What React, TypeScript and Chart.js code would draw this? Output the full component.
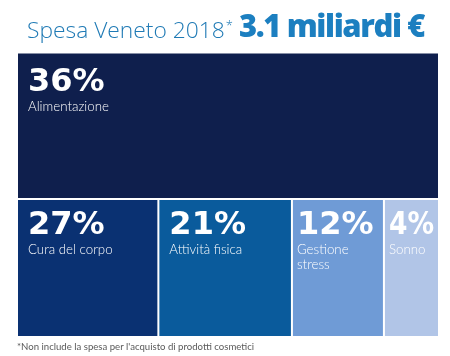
import React, { useEffect, useRef } from "react";
import { Chart, registerables } from "chart.js";

Chart.register(...registerables);

// ---- data ----
const rowLabels = ["Riga 1", "Riga 2"];
const categories: string[][] = [
  ["Alimentazione"],
  ["Cura del corpo"],
  ["Attività fisica"],
  ["Gestione", "stress"],
  ["Sonno"],
];
const shares = [36, 27, 21, 12, 4];
const tileRow = [0, 1, 1, 1, 1];
// share of the row width each tile takes in the infographic layout
const tileSpan = [100, 33.5, 31.65, 21.8, 13.05];
const tileColors = ["#0f1f4d", "#0a3172", "#0a5b9c", "#6f9bd6", "#b1c5e7"];
const titleLight = "Spesa Veneto 2018";
const titleStar = "*";
const titleBold = "3.1 miliardi €";
const footnote = "*Non include la spesa per l'acquisto di prodotti cosmetici";

const overlay = {
  id: "overlay",
  afterDatasetsDraw(chart: any) {
    const ctx: CanvasRenderingContext2D = chart.ctx;
    ctx.save();
    chart.data.datasets.forEach((_ds: any, i: number) => {
      const meta = chart.getDatasetMeta(i);
      const el = meta.data[tileRow[i]];
      if (!el) return;
      const p = el.getProps(["x", "base", "y", "height"], true);
      const left = Math.min(p.x, p.base) + 1;
      const right = Math.max(p.x, p.base) - 1;
      const top = p.y - p.height / 2 + 1;
      const inner = right - left;
      ctx.fillStyle = "#ffffff";
      ctx.textBaseline = "alphabetic";
      ctx.textAlign = "left";
      ctx.font = "bold 32px 'DejaVu Sans'";
      const pct = shares[i] + "%";
      const w = ctx.measureText(pct).width;
      const padX = w + 20 > inner ? 4 : 10;
      const padTop = tileRow[i] === 0 ? 15 : 10;
      const baseLine = top + padTop + 24;
      ctx.fillText(pct, left + padX, baseLine, inner - 2 * padX);
      ctx.font = "300 13.3px Lato";
      categories[i].forEach((line, k) => {
        ctx.fillText(line, left + padX, baseLine + 20 + k * 15);
      });
    });
    ctx.restore();
  },
  afterDraw(chart: any) {
    const ctx: CanvasRenderingContext2D = chart.ctx;
    ctx.save();
    ctx.textBaseline = "alphabetic";
    ctx.textAlign = "left";
    ctx.fillStyle = "#1f7ab5";
    ctx.font = "300 22.8px 'Open Sans'";
    ctx.fillText(titleLight, 27, 38);
    const w1 = ctx.measureText(titleLight).width;
    ctx.font = "300 13px 'Open Sans'";
    ctx.fillText(titleStar, 27 + w1 + 1, 30);
    ctx.fillStyle = "#1c7fc0";
    ctx.font = "800 31px 'Open Sans'";
    (ctx as any).letterSpacing = "-1.4px";
    ctx.fillText(titleBold, 239, 37);
    (ctx as any).letterSpacing = "0px";
    ctx.fillStyle = "#5a5a5a";
    ctx.font = "9.6px Lato";
    ctx.fillText(footnote, 17, 350);
    ctx.restore();
  },
};

export default function App() {
  const ref = useRef<HTMLCanvasElement | null>(null);
  useEffect(() => {
    if (!ref.current) return;
    const datasets = shares.map((_v, i) => ({
      label: categories[i].join(" "),
      data: rowLabels.map((_r, r) => (r === tileRow[i] ? tileSpan[i] : null)),
      backgroundColor: tileColors[i],
      borderColor: "#ffffff",
      borderWidth: 1,
      borderSkipped: false as const,
      categoryPercentage: 1,
      barPercentage: tileRow[i] === 0 ? 148 / 143 : 138 / 143,
    }));
    const chart = new Chart(ref.current, {
      type: "bar",
      data: { labels: rowLabels, datasets },
      options: {
        indexAxis: "y",
        responsive: false,
        animation: false,
        devicePixelRatio: 1,
        layout: { padding: { left: 17, right: 11, top: 53.5, bottom: 16.5 } },
        scales: {
          x: { type: "linear", min: 0, max: 100, stacked: true, display: false },
          y: { type: "category", stacked: true, display: false },
        },
        plugins: {
          legend: { display: false },
          tooltip: { enabled: false },
          title: { display: false },
        },
      },
      plugins: [overlay],
    });
    return () => chart.destroy();
  }, []);
  return (
    <div style={{ position: "absolute", left: 0, top: 0, width: 450, height: 356, background: "#fff" }}>
      <canvas ref={ref} width={450} height={356} style={{ display: "block" }} />
    </div>
  );
}
